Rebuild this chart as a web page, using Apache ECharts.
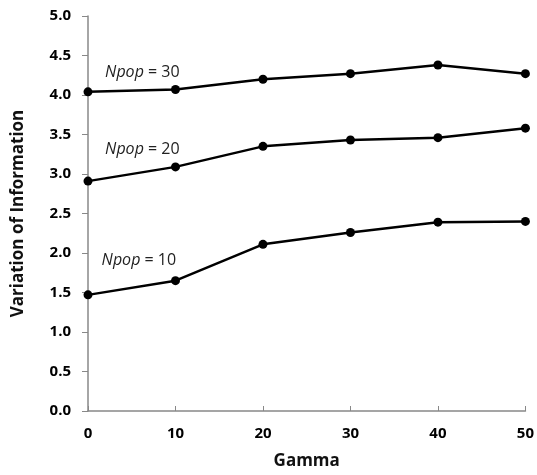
<!DOCTYPE html>
<html><head><meta charset="utf-8">
<script src="https://cdn.jsdelivr.net/npm/echarts@6/dist/echarts.min.js"></script>
<style>html,body{margin:0;padding:0;background:#fff}#c{width:537px;height:475px}</style>
</head><body><div id="c"></div>
<script>
var gamma = [0, 10, 20, 30, 40, 50];
var npop30 = [4.04, 4.07, 4.20, 4.27, 4.38, 4.27];
var npop20 = [2.91, 3.09, 3.35, 3.43, 3.46, 3.58];
var npop10 = [1.47, 1.65, 2.11, 2.26, 2.39, 2.40];
var labels = [
  {name: '30', coord: [3.9, 4.29]},
  {name: '20', coord: [3.9, 3.31]},
  {name: '10', coord: [3.5, 1.90]}
];
var FONT = '"Open Sans", sans-serif';
function pairs(v){ return gamma.map(function(g,i){return [g, v[i]];}); }
function mk(name, vals, lab){
  return {
    type: 'line', name: name, data: pairs(vals),
    symbol: 'circle', symbolSize: 9,
    lineStyle: {color: '#000', width: 2.5},
    itemStyle: {color: '#000'},
    animation: false,
    markPoint: {
      symbol: 'circle', symbolSize: 0,
      data: [{coord: lab.coord, value: lab.name}],
      label: {
        show: true, position: 'right', distance: 0, offset: [-17, 0],
        formatter: function(){ return '{i|Npop} = ' + lab.name; },
        fontFamily: FONT, fontSize: 16, color: '#222',
        rich: {i: {fontStyle: 'italic', fontFamily: FONT, fontSize: 16, color: '#222'}}
      }
    }
  };
}
var chart = echarts.init(document.getElementById('c'));
chart.setOption({
  backgroundColor: '#fff',
  grid: {left: 88, right: 10, top: 16, bottom: 63},
  xAxis: {
    type: 'value', min: 0, max: 50, interval: 10,
    name: 'Gamma', nameLocation: 'middle', nameGap: 42,
    nameTextStyle: {fontFamily: FONT, fontWeight: 'bold', fontSize: 17, color: '#111'},
    axisLine: {lineStyle: {color: '#888', width: 1.5}},
    axisTick: {inside: true, length: 5, lineStyle: {color: '#888'}},
    axisLabel: {fontFamily: FONT, fontWeight: 'bold', fontSize: 15, color: '#000', margin: 15},
    splitLine: {show: false}
  },
  yAxis: {
    type: 'value', min: 0, max: 5, interval: 0.5,
    name: 'Variation of Information', nameLocation: 'middle', nameGap: 61,
    nameTextStyle: {fontFamily: FONT, fontWeight: 'bold', fontSize: 17, color: '#111'},
    axisLine: {show: true, lineStyle: {color: '#888', width: 1.5}},
    axisTick: {show: true, length: 6, lineStyle: {color: '#888'}},
    axisLabel: {fontFamily: FONT, fontWeight: 'bold', fontSize: 15, color: '#000', margin: 17,
      formatter: function(v){ return v.toFixed(1); }},
    splitLine: {show: false}
  },
  series: [mk('Npop = 30', npop30, labels[0]), mk('Npop = 20', npop20, labels[1]), mk('Npop = 10', npop10, labels[2])]
});
</script></body></html>
